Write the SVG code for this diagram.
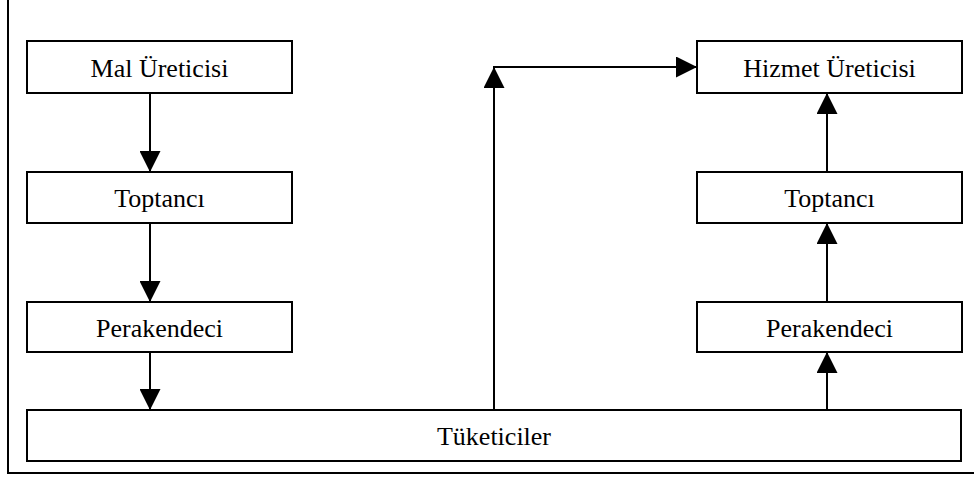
<svg xmlns="http://www.w3.org/2000/svg" width="974" height="479" viewBox="0 0 974 479">
<defs>
<marker id="ah" markerUnits="userSpaceOnUse" markerWidth="21" markerHeight="21" viewBox="0 0 21 21" refX="21" refY="10.5" orient="auto">
<path d="M0,0 L21,10.5 L0,21 z" fill="#000"/>
</marker>
<style>
.box{fill:#fff;stroke:#000;stroke-width:2}
.lbl{font-family:"Liberation Serif","Times New Roman",serif;font-size:26px;fill:#000;text-anchor:middle}
.edge{fill:none;stroke:#000;stroke-width:2;marker-end:url(#ah)}
</style>
</defs>
<rect width="974" height="479" fill="#fff"/>
<path d="M8,0 V473 H974" fill="none" stroke="#000" stroke-width="2"/>
<g id="connectors">
<line class="edge" x1="150" y1="93" x2="150" y2="172"/>
<line class="edge" x1="150" y1="223" x2="150" y2="302"/>
<line class="edge" x1="150" y1="352" x2="150" y2="410"/>
<line class="edge" x1="494" y1="410" x2="494" y2="67"/>
<line class="edge" x1="493" y1="67" x2="697" y2="67"/>
<line class="edge" x1="827" y1="410" x2="827" y2="352"/>
<line class="edge" x1="827" y1="302" x2="827" y2="223"/>
<line class="edge" x1="827" y1="172" x2="827" y2="93"/>
</g>
<g id="mal-ureticisi"><rect class="box" x="27" y="41" width="265" height="52"/><text class="lbl" x="159.5" y="77">Mal Üreticisi</text></g>
<g id="toptanci-left"><rect class="box" x="27" y="172" width="265" height="51"/><text class="lbl" x="159.5" y="207">Toptancı</text></g>
<g id="perakendeci-left"><rect class="box" x="27" y="302" width="265" height="50"/><text class="lbl" x="159.5" y="337">Perakendeci</text></g>
<g id="tuketiciler"><rect class="box" x="27" y="410" width="934" height="51"/><text class="lbl" x="494" y="445">Tüketiciler</text></g>
<g id="hizmet-ureticisi"><rect class="box" x="697" y="41" width="265" height="52"/><text class="lbl" x="829.5" y="77">Hizmet Üreticisi</text></g>
<g id="toptanci-right"><rect class="box" x="697" y="172" width="265" height="51"/><text class="lbl" x="829.5" y="207">Toptancı</text></g>
<g id="perakendeci-right"><rect class="box" x="697" y="302" width="265" height="50"/><text class="lbl" x="829.5" y="337">Perakendeci</text></g>
</svg>
